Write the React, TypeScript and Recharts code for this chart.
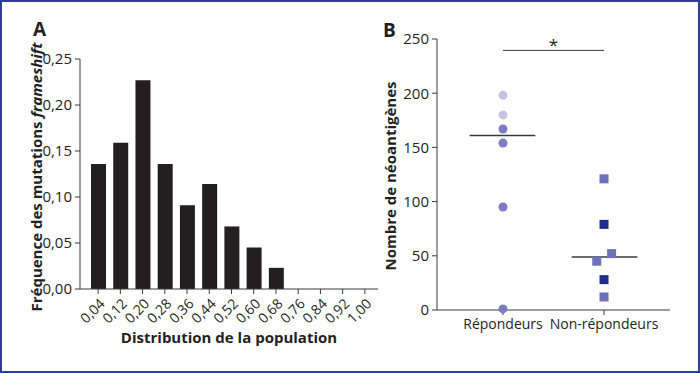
import React from 'react';
import {
  BarChart,
  Bar,
  XAxis,
  YAxis,
  Label,
  ScatterChart,
  Scatter,
  ReferenceLine,
} from 'recharts';

// Panel A: frequency of frameshift mutations by population bin
const BINS = ['0,04', '0,12', '0,20', '0,28', '0,36', '0,44', '0,52', '0,60', '0,68', '0,76', '0,84', '0,92', '1,00'];
const FREQS = [0.136, 0.159, 0.227, 0.136, 0.091, 0.114, 0.068, 0.045, 0.023, 0, 0, 0, 0];
const FREQ_TICKS = [0, 0.05, 0.1, 0.15, 0.2, 0.25];

// Panel B: neoantigen counts per group
const GROUPS = ['Répondeurs', 'Non-répondeurs'];
const RESP_LIGHT = [198, 180];
const RESP_MID = [167, 154, 95, 1];
const NONRESP_MID = [121, 52, 45, 12];
const NONRESP_MID_X = [1, 1.075, 0.928, 1];
const NONRESP_DARK = [79, 28];
const MEDIANS = [161, 49];
const SIGNIF_Y = 239.5;
const NEO_TICKS = [0, 50, 100, 150, 200, 250];

const FONT = '"Open Sans", sans-serif';
const INK = '#231f20';
const AXIS = '#3a3a3a';

const barData = BINS.map((bin, i) => ({ bin, freq: FREQS[i] }));

const respLight = RESP_LIGHT.map((y) => ({ x: 0, y }));
const respMid = RESP_MID.map((y) => ({ x: 0, y }));
const nonMid = NONRESP_MID.map((y, i) => ({ x: NONRESP_MID_X[i], y }));
const nonDark = NONRESP_DARK.map((y) => ({ x: 1, y }));

const RotatedTick = (props: any) => {
  const { x, y, payload } = props;
  return (
    <text
      x={x + 5}
      y={y + 6}
      transform={`rotate(-45, ${x + 5}, ${y + 6})`}
      textAnchor="end"
      dominantBaseline="middle"
      fontSize={14}
      fontFamily={FONT}
      fill={INK}
    >
      {payload.value}
    </text>
  );
};

const FreqLabel = (props: any) => {
  const vb = props.viewBox;
  const cx = vb.x + 38;
  const cy = vb.y + vb.height / 2 + 3;
  return (
    <text
      x={cx}
      y={cy}
      transform={`rotate(-90, ${cx}, ${cy})`}
      textAnchor="middle"
      dominantBaseline="middle"
      fontSize={15}
      fontWeight="bold"
      fontFamily={FONT}
      fill={INK}
    >
      Fréquence des mutations <tspan fontStyle="italic">frameshift</tspan>
    </text>
  );
};

const NeoLabel = (props: any) => {
  const vb = props.viewBox;
  const cx = vb.x + 22;
  const cy = vb.y + 137;
  return (
    <text
      x={cx}
      y={cy}
      transform={`rotate(-90, ${cx}, ${cy})`}
      textAnchor="middle"
      dominantBaseline="middle"
      fontSize={15}
      fontWeight="bold"
      fontFamily={FONT}
      fill={INK}
    >
      Nombre de néoantigènes
    </text>
  );
};

const dot = (fill: string) => (p: any) => <circle cx={p.cx} cy={p.cy} r={4.5} fill={fill} />;
const square = (fill: string) => (p: any) => (
  <rect x={p.cx - 4.5} y={p.cy - 4.5} width={9} height={9} fill={fill} />
);

export default function App() {
  const tickStyle = { fontSize: 15, fontFamily: FONT, fill: INK };
  return (
    <div
      style={{
        position: 'absolute',
        left: 0,
        top: 0,
        width: 700,
        height: 373,
        boxSizing: 'border-box',
        border: '2px solid #2f3f98',
        background: '#fff',
        fontFamily: FONT,
      }}
    >
      <div style={{ position: 'absolute', left: 31, top: 14, fontSize: 19, fontWeight: 'bold', color: INK }}>A</div>
      <div style={{ position: 'absolute', left: 381, top: 15, fontSize: 19, fontWeight: 'bold', color: INK }}>B</div>

      <div style={{ position: 'absolute', left: -2, top: -2 }}>
        <BarChart width={390} height={373} data={barData} margin={{ top: 59, right: 12, left: 0, bottom: 0 }}>
          <XAxis
            dataKey="bin"
            type="category"
            height={84}
            interval={0}
            padding={{ left: 7, right: 2 }}
            tickSize={5}
            tick={<RotatedTick />}
            stroke={AXIS}
          >
            <Label
              value="Distribution de la population"
              position="insideBottom"
              offset={30}
              style={{ fontSize: 15, fontWeight: 'bold', fontFamily: FONT, fill: INK }}
            />
          </XAxis>
          <YAxis
            width={80}
            domain={[0, 0.25]}
            ticks={FREQ_TICKS}
            tickSize={5}
            tickMargin={3}
            tickFormatter={(v: number) => v.toFixed(2).replace('.', ',')}
            tick={tickStyle}
            stroke={AXIS}
          >
            <Label content={<FreqLabel />} />
          </YAxis>
          <Bar dataKey="freq" fill={INK} barSize={15} isAnimationActive={false} />
        </BarChart>
      </div>

      <div style={{ position: 'absolute', left: 368, top: -2 }}>
        <ScatterChart width={310} height={373} margin={{ top: 39, right: 10, left: 0, bottom: 0 }}>
          <XAxis
            dataKey="x"
            type="number"
            domain={[-0.653, 1.653]}
            ticks={[0, 1]}
            height={63}
            tickSize={5}
            tickMargin={4}
            tickFormatter={(v: number) => GROUPS[v]}
            tick={{ ...tickStyle, fontSize: 14 }}
            stroke={AXIS}
          />
          <YAxis
            dataKey="y"
            type="number"
            width={67}
            domain={[0, 250]}
            ticks={NEO_TICKS}
            tickSize={5}
            tickMargin={3}
            tick={tickStyle}
            stroke={AXIS}
          >
            <Label content={<NeoLabel />} />
          </YAxis>
          <ReferenceLine
            segment={[{ x: -0.33, y: MEDIANS[0] }, { x: 0.32, y: MEDIANS[0] }]}
            stroke={AXIS}
            strokeWidth={1.5}
          />
          <ReferenceLine
            segment={[{ x: 0.68, y: MEDIANS[1] }, { x: 1.33, y: MEDIANS[1] }]}
            stroke={AXIS}
            strokeWidth={1.5}
          />
          <ReferenceLine
            segment={[{ x: 0, y: SIGNIF_Y }, { x: 1, y: SIGNIF_Y }]}
            stroke={AXIS}
            strokeWidth={1}
            label={{ value: '*', position: 'center', dy: -5, fontSize: 17, fill: INK, fontFamily: FONT }}
          />
          <Scatter data={respLight} shape={dot('#c4c5e4')} isAnimationActive={false} />
          <Scatter data={respMid} shape={dot('#7c7cc2')} isAnimationActive={false} />
          <Scatter data={nonMid} shape={square('#6e70b9')} isAnimationActive={false} />
          <Scatter data={nonDark} shape={square('#1f2e8c')} isAnimationActive={false} />
        </ScatterChart>
      </div>
    </div>
  );
}
